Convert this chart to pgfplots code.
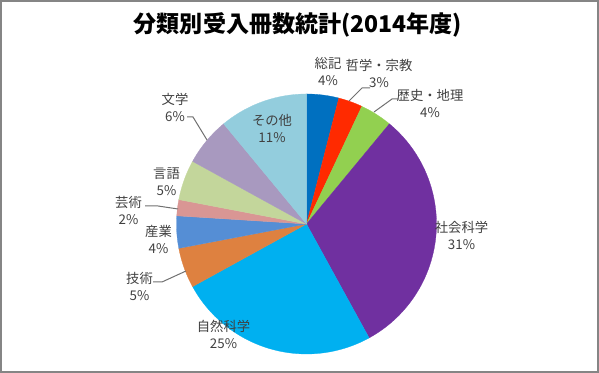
\documentclass[border=0pt]{standalone}
\usepackage{pgfplots}
\pgfplotsset{compat=1.18}
\usepackage{pgfplotstable}
\usepackage{fontspec}
\setmainfont{Noto Sans CJK JP}

\definecolor{slice0}{HTML}{0070C0}
\definecolor{slice1}{HTML}{FF2A00}
\definecolor{slice2}{HTML}{92D050}
\definecolor{slice3}{HTML}{7030A0}
\definecolor{slice4}{HTML}{00B0F0}
\definecolor{slice5}{HTML}{DE8140}
\definecolor{slice6}{HTML}{558ED5}
\definecolor{slice7}{HTML}{D99694}
\definecolor{slice8}{HTML}{C3D69B}
\definecolor{slice9}{HTML}{A899BF}
\definecolor{slice10}{HTML}{93CDDD}
\definecolor{labeltext}{HTML}{404040}
\definecolor{leader}{HTML}{707070}
\definecolor{frame}{HTML}{858585}

\pgfplotstableread[col sep=comma]{
name,value
総記,4
哲学・宗教,3
歴史・地理,4
社会科学,31
自然科学,25
技術,5
産業,4
芸術,2
言語,5
文学,6
その他,11
}\piedata

\begin{document}
\begin{tikzpicture}
\begin{axis}[x=0.75pt, y=0.75pt, xmin=0, xmax=599, ymin=0, ymax=373,
  hide axis, clip=false, scale only axis]
\pgfmathsetmacro{\cum}{0}
\pgfplotsforeachungrouped \i in {0,...,10}{%
  \pgfplotstablegetelem{\i}{value}\of\piedata
  \pgfmathsetmacro{\sa}{90-3.6*\cum}%
  \pgfmathsetmacro{\cum}{\cum+\pgfplotsretval}%
  \pgfmathsetmacro{\ea}{90-3.6*\cum}%
  \edef\doplot{\noexpand\addplot[fill=slice\i, draw=slice\i, line width=0.2pt, domain=\ea:\sa, samples=61, forget plot] ({306.5+130*cos(x)},{149+130*sin(x)}) -- (axis cs:306.5,149) -- cycle;}%
  \doplot
}
\path (axis cs:0,0) rectangle (axis cs:599,373);
\draw[color=frame, line width=1.5pt] (axis cs:1,1) rectangle (axis cs:598,372);
\node[font=\fontsize{17.3}{20}\selectfont\bfseries, text=black] at (axis cs:298,348) {分類別受入冊数統計(2014年度)};
\tikzset{lbl/.style={align=center, inner sep=0pt, text=labeltext, font=\fontsize{10}{12.75}\selectfont}}
\node[lbl] at (axis cs:328,301.5) {総記\\4\%};
\node[lbl] at (axis cs:379,300) {哲学・宗教\\3\%};
\node[lbl] at (axis cs:430,270) {歴史・地理\\4\%};
\node[lbl] at (axis cs:461.5,137.5) {社会科学\\31\%};
\node[lbl] at (axis cs:223.5,39) {自然科学\\25\%};
\node[lbl] at (axis cs:139.5,86.5) {技術\\5\%};
\node[lbl] at (axis cs:158.5,134) {産業\\4\%};
\node[lbl] at (axis cs:128.5,162.5) {芸術\\2\%};
\node[lbl] at (axis cs:166.5,191.5) {言語\\5\%};
\node[lbl] at (axis cs:175,265.5) {文学\\6\%};
\node[lbl] at (axis cs:272,244.5) {その他\\11\%};
\tikzset{ldr/.style={draw=leader, line width=0.75pt}}
\draw[ldr] (axis cs:349,272) -- (axis cs:362,285) -- (axis cs:370,285);
\draw[ldr] (axis cs:374,261) -- (axis cs:392,274) -- (axis cs:399,274);
\draw[ldr] (axis cs:153,91) -- (axis cs:162,91) -- (axis cs:186,102);
\draw[ldr] (axis cs:145,167) -- (axis cs:158,167) -- (axis cs:178,164);
\draw[ldr] (axis cs:187,256) -- (axis cs:193,256) -- (axis cs:207,233);
\end{axis}
\end{tikzpicture}
\end{document}
